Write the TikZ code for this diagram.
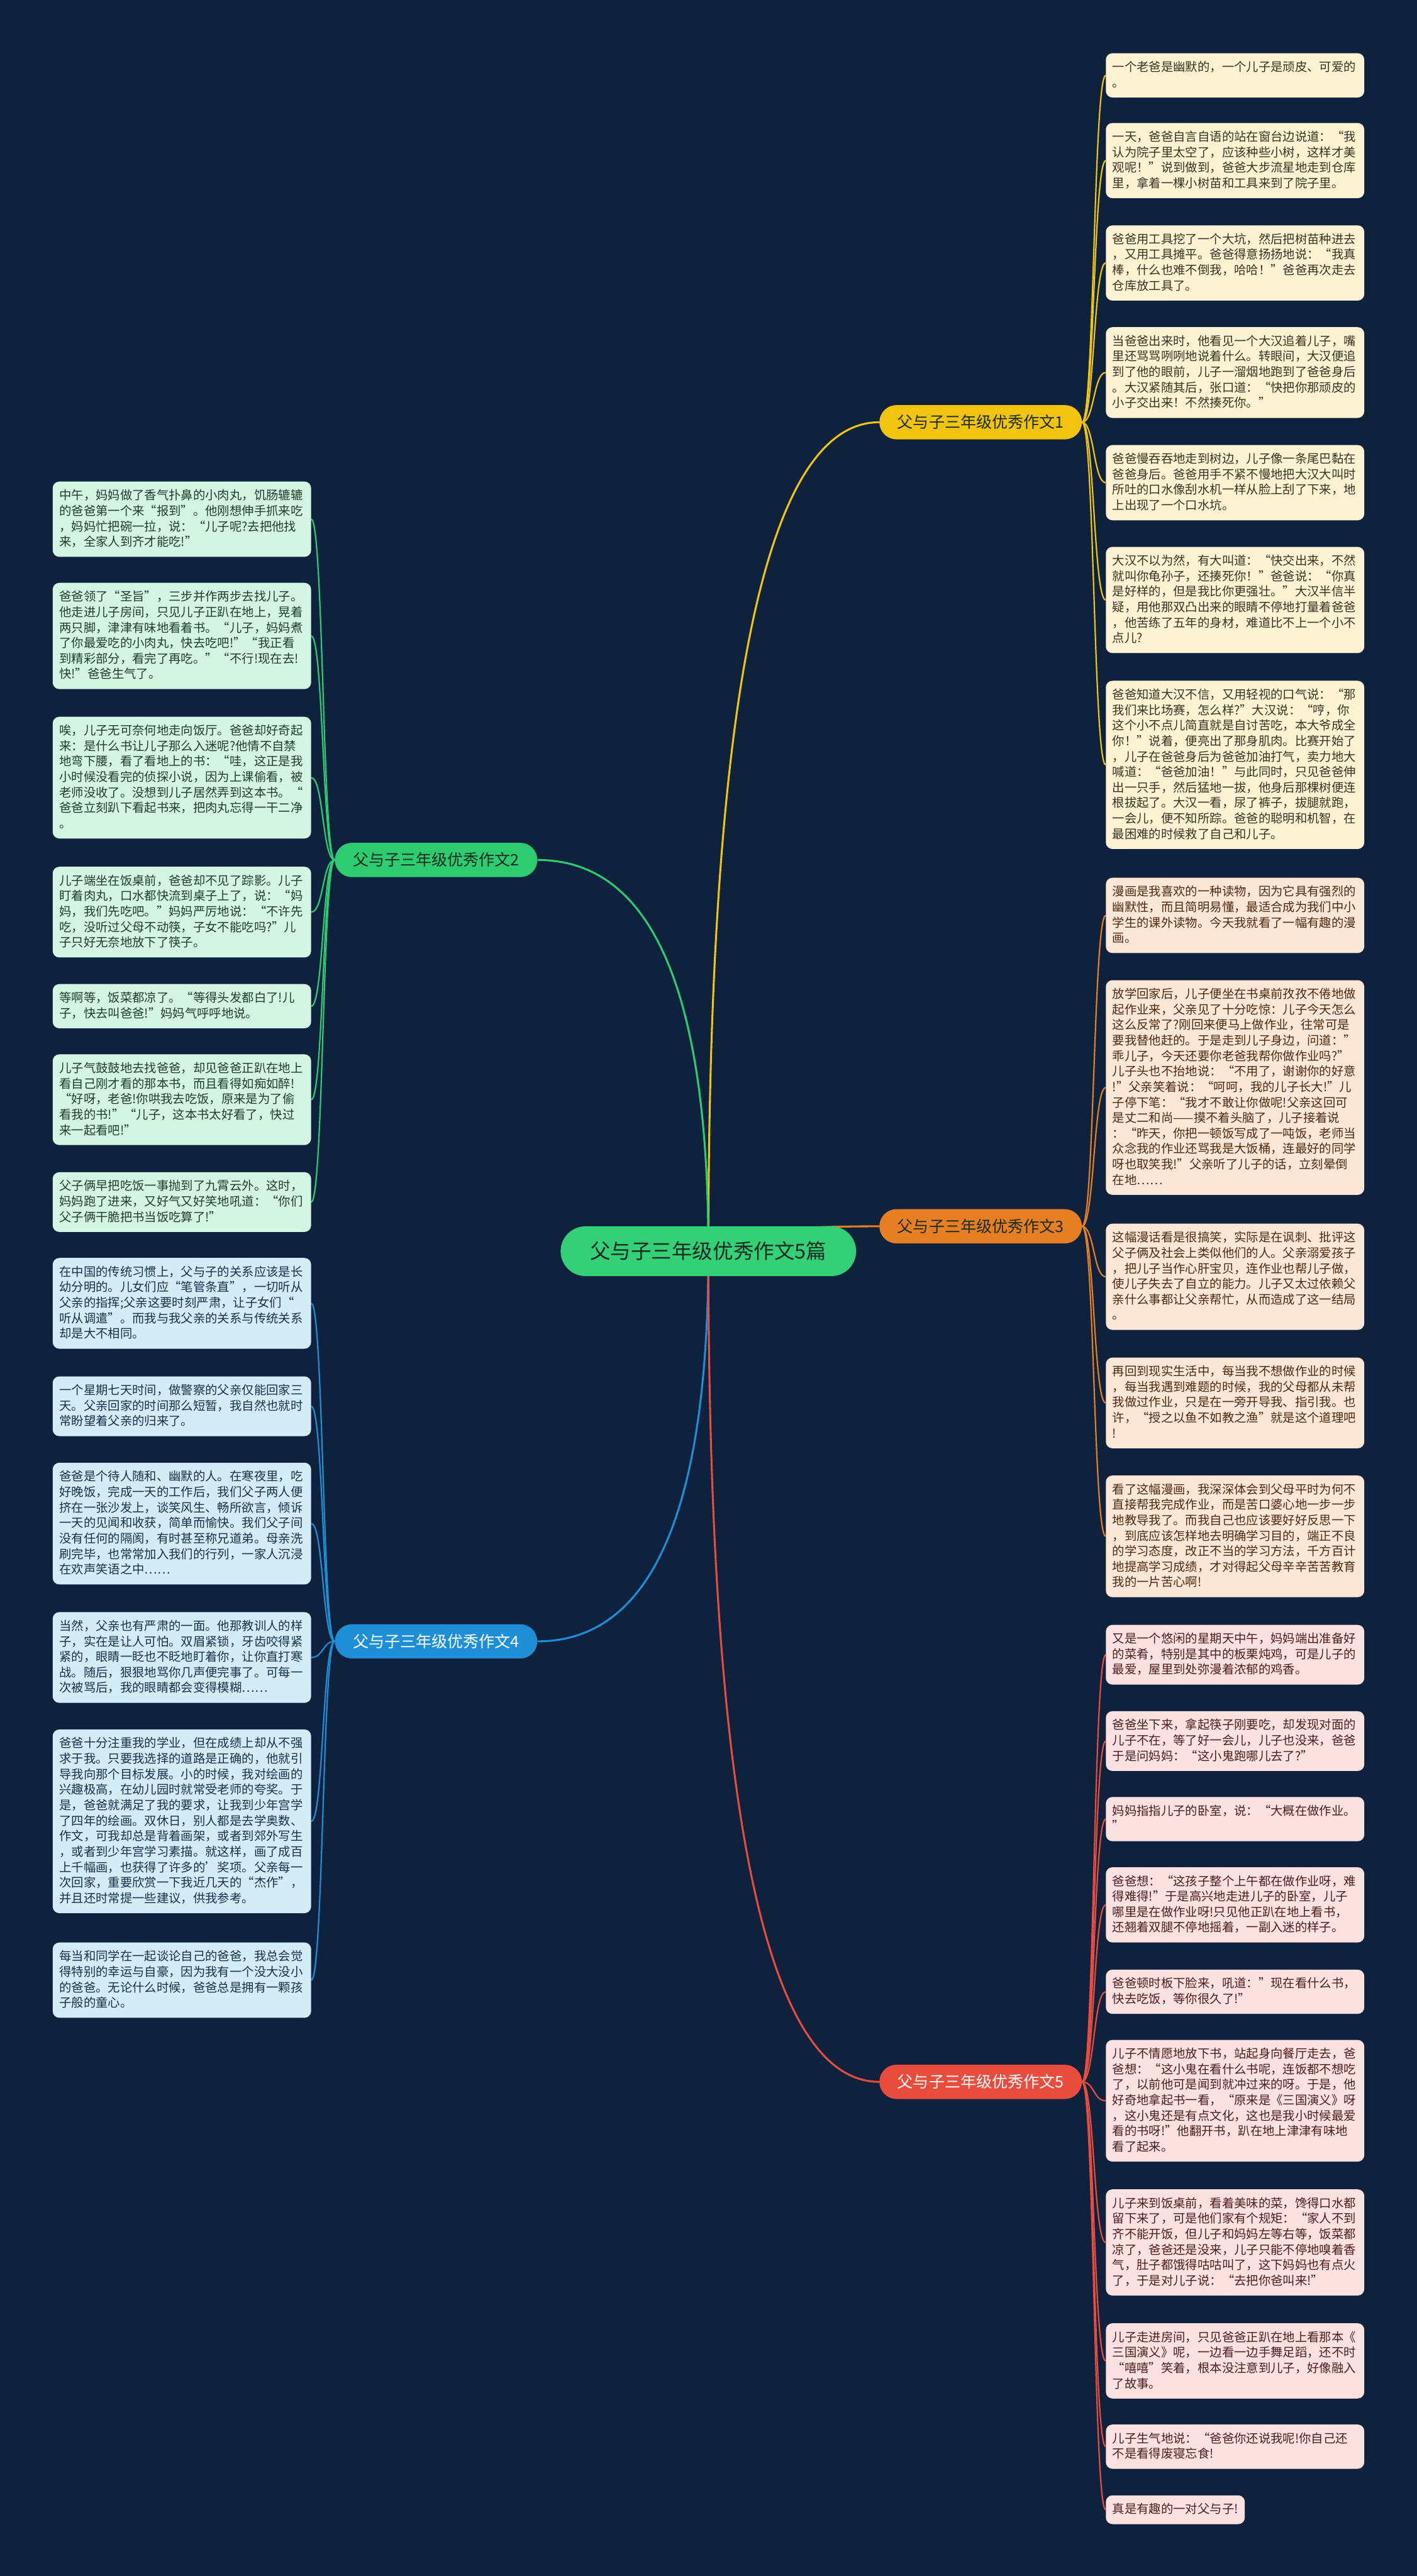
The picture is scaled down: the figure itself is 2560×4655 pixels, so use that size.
\documentclass[tikz,border=0pt]{standalone}
\usepackage{fontspec}
\setmainfont{Noto Sans CJK SC}
\usetikzlibrary{calc}
\definecolor{bg}{RGB}{14,34,62}
\definecolor{cY}{HTML}{F1C40F}
\definecolor{cG}{HTML}{2ECC71}
\definecolor{cO}{HTML}{E67E22}
\definecolor{cB}{HTML}{1E8FD6}
\definecolor{cR}{HTML}{E74C3C}
\definecolor{cC}{HTML}{33D078}
\definecolor{fY}{HTML}{FDF3D3}
\definecolor{tY}{HTML}{3A3220}
\definecolor{fO}{HTML}{FCE7D6}
\definecolor{tO}{HTML}{4A2A12}
\definecolor{fR}{HTML}{FBE1DF}
\definecolor{tR}{HTML}{4A1E1E}
\definecolor{fG}{HTML}{D5F5E3}
\definecolor{tG}{HTML}{1E3D2C}
\definecolor{fB}{HTML}{D4EBF8}
\definecolor{tB}{HTML}{173248}
\definecolor{tDark}{HTML}{1B2A1F}
\newcommand\leaffont{\fontsize{22pt}{28pt}\selectfont}
\newcommand\pillfont{\fontsize{28.5pt}{34pt}\selectfont}
\newcommand\centfont{\fontsize{37pt}{44pt}\selectfont}
\newcommand\lstr{\rule[-7pt]{0pt}{28pt}}
\pgfdeclarelayer{bgfill}
\pgfdeclarelayer{links}
\pgfsetlayers{bgfill,links,main}
\newcommand\mainlink[2]{\coordinate (mk) at (c.center|-#2);
  \draw[#1] (c.center) .. controls ($(c.center)!0.667!(mk)$) and ($(#2)!0.667!(mk)$) .. (#2);}
\newcommand\rlink[3]{\draw[#1] (#2.east) .. controls +(22,0) and +(-22,0) .. (#3.west);}
\newcommand\llink[3]{\draw[#1] (#2.west) .. controls +(-22,0) and +(22,0) .. (#3.east);}
\tikzset{
  leafbox/.style={rounded corners=12pt, anchor=north west, text width=443pt, align=left,
    inner xsep=12pt, inner ysep=12pt, font=\leaffont,
    execute at begin node=\lstr, execute at end node=\lstr},
  leafshort/.style={rounded corners=12pt, anchor=north west,
    inner xsep=12pt, inner ysep=12pt, font=\leaffont,
    execute at begin node=\lstr, execute at end node=\lstr},
  yleaf/.style={leafbox, fill=fY, text=tY},
  oleaf/.style={leafbox, fill=fO, text=tO},
  rleaf/.style={leafbox, fill=fR, text=tR},
  gleaf/.style={leafbox, fill=fG, text=tG},
  bleaf/.style={leafbox, fill=fB, text=tB},
  pill/.style={rounded corners=31pt, minimum width=366pt, minimum height=62pt, inner sep=0pt, font=\pillfont},
  centre/.style={rounded corners=45pt, minimum width=534pt, minimum height=90pt, inner sep=0pt,
    font=\centfont, fill=cC, text=tDark},
  mainline/.style={line width=3.5pt},
  leafline/.style={line width=2.5pt},
}
\begin{document}
\begin{tikzpicture}[x=1pt,y=-1pt]
\begin{pgfonlayer}{bgfill}
\fill[bg] (0,0) rectangle (2560,4655);
\end{pgfonlayer}
\useasboundingbox (0,0) rectangle (2560,4655);

% central and branches
\node[centre] (c) at (1280,2261) {父与子三年级优秀作文5篇};
\node[pill, fill=cY, text=tDark] (b1) at (1772,763) {父与子三年级优秀作文1};
\node[pill, fill=cG, text=tDark] (b2) at (788,1554) {父与子三年级优秀作文2};
\node[pill, fill=cO, text=tDark] (b3) at (1772,2216) {父与子三年级优秀作文3};
\node[pill, fill=cB, text=white] (b4) at (788,2966) {父与子三年级优秀作文4};
\node[pill, fill=cR, text=white] (b5) at (1772,3762) {父与子三年级优秀作文5};

% branch 1 leaves
\node[yleaf] (y1) at (1998,96) {一个老爸是幽默的，一个儿子是顽皮、可爱的\\。};
\node[yleaf] (y2) at (1998,222) {一天，爸爸自言自语的站在窗台边说道：“我\\认为院子里太空了，应该种些小树，这样才美\\观呢！”说到做到，爸爸大步流星地走到仓库\\里，拿着一棵小树苗和工具来到了院子里。};
\node[yleaf] (y3) at (1998,407) {爸爸用工具挖了一个大坑，然后把树苗种进去\\，又用工具摊平。爸爸得意扬扬地说：“我真\\棒，什么也难不倒我，哈哈！”爸爸再次走去\\仓库放工具了。};
\node[yleaf] (y4) at (1998,591) {当爸爸出来时，他看见一个大汉追着儿子，嘴\\里还骂骂咧咧地说着什么。转眼间，大汉便追\\到了他的眼前，儿子一溜烟地跑到了爸爸身后\\。大汉紧随其后，张口道：“快把你那顽皮的\\小子交出来！不然揍死你。”};
\node[yleaf] (y5) at (1998,804) {爸爸慢吞吞地走到树边，儿子像一条尾巴黏在\\爸爸身后。爸爸用手不紧不慢地把大汉大叫时\\所吐的口水像刮水机一样从脸上刮了下来，地\\上出现了一个口水坑。};
\node[yleaf] (y6) at (1998,988) {大汉不以为然，有大叫道：“快交出来，不然\\就叫你龟孙子，还揍死你！”爸爸说：“你真\\是好样的，但是我比你更强壮。”大汉半信半\\疑，用他那双凸出来的眼睛不停地打量着爸爸\\，他苦练了五年的身材，难道比不上一个小不\\点儿?};
\node[yleaf] (y7) at (1998,1230) {爸爸知道大汉不信，又用轻视的口气说：“那\\我们来比场赛，怎么样?”大汉说：“哼，你\\这个小不点儿简直就是自讨苦吃，本大爷成全\\你！”说着，便亮出了那身肌肉。比赛开始了\\，儿子在爸爸身后为爸爸加油打气，卖力地大\\喊道：“爸爸加油！”与此同时，只见爸爸伸\\出一只手，然后猛地一拔，他身后那棵树便连\\根拔起了。大汉一看，尿了裤子，拔腿就跑，\\一会儿，便不知所踪。爸爸的聪明和机智，在\\最困难的时候救了自己和儿子。};

% branch 3 leaves
\node[oleaf] (o1) at (1998,1586) {漫画是我喜欢的一种读物，因为它具有强烈的\\幽默性，而且简明易懂，最适合成为我们中小\\学生的课外读物。今天我就看了一幅有趣的漫\\画。};
\node[oleaf] (o2) at (1998,1771) {放学回家后，儿子便坐在书桌前孜孜不倦地做\\起作业来，父亲见了十分吃惊：儿子今天怎么\\这么反常了?刚回来便马上做作业，往常可是\\要我替他赶的。于是走到儿子身边，问道："\\乖儿子，今天还要你老爸我帮你做作业吗?”\\儿子头也不抬地说：“不用了，谢谢你的好意\\!”父亲笑着说：“呵呵，我的儿子长大!”儿\\子停下笔：“我才不敢让你做呢!父亲这回可\\是丈二和尚——摸不着头脑了，儿子接着说\\：“昨天，你把一顿饭写成了一吨饭，老师当\\众念我的作业还骂我是大饭桶，连最好的同学\\呀也取笑我!”父亲听了儿子的话，立刻晕倒\\在地……};
\node[oleaf] (o3) at (1998,2211) {这幅漫话看是很搞笑，实际是在讽刺、批评这\\父子俩及社会上类似他们的人。父亲溺爱孩子\\，把儿子当作心肝宝贝，连作业也帮儿子做，\\使儿子失去了自立的能力。儿子又太过依赖父\\亲什么事都让父亲帮忙，从而造成了这一结局\\。};
\node[oleaf] (o4) at (1998,2453) {再回到现实生活中，每当我不想做作业的时候\\，每当我遇到难题的时候，我的父母都从未帮\\我做过作业，只是在一旁开导我、指引我。也\\许，“授之以鱼不如教之渔”就是这个道理吧\\!};
\node[oleaf] (o5) at (1998,2666) {看了这幅漫画，我深深体会到父母平时为何不\\直接帮我完成作业，而是苦口婆心地一步一步\\地教导我了。而我自己也应该要好好反思一下\\，到底应该怎样地去明确学习目的，端正不良\\的学习态度，改正不当的学习方法，千方百计\\地提高学习成绩，才对得起父母辛辛苦苦教育\\我的一片苦心啊!};

% branch 5 leaves
\node[rleaf] (r1) at (1998,2936) {又是一个悠闲的星期天中午，妈妈端出准备好\\的菜肴，特别是其中的板栗炖鸡，可是儿子的\\最爱，屋里到处弥漫着浓郁的鸡香。};
\node[rleaf] (r2) at (1998,3092) {爸爸坐下来，拿起筷子刚要吃，却发现对面的\\儿子不在，等了好一会儿，儿子也没来，爸爸\\于是问妈妈：“这小鬼跑哪儿去了?”};
\node[rleaf] (r3) at (1998,3247) {妈妈指指儿子的卧室，说：“大概在做作业。\\”};
\node[rleaf] (r4) at (1998,3374) {爸爸想：“这孩子整个上午都在做作业呀，难\\得难得!”于是高兴地走进儿子的卧室，儿子\\哪里是在做作业呀!只见他正趴在地上看书，\\还翘着双腿不停地摇着，一副入迷的样子。};
\node[rleaf] (r5) at (1998,3559) {爸爸顿时板下脸来，吼道："现在看什么书，\\快去吃饭，等你很久了!”};
\node[rleaf] (r6) at (1998,3686) {儿子不情愿地放下书，站起身向餐厅走去，爸\\爸想：“这小鬼在看什么书呢，连饭都不想吃\\了，以前他可是闻到就冲过来的呀。于是，他\\好奇地拿起书一看，“原来是《三国演义》呀\\，这小鬼还是有点文化，这也是我小时候最爱\\看的书呀!”他翻开书，趴在地上津津有味地\\看了起来。};
\node[rleaf] (r7) at (1998,3956) {儿子来到饭桌前，看着美味的菜，馋得口水都\\留下来了，可是他们家有个规矩：“家人不到\\齐不能开饭，但儿子和妈妈左等右等，饭菜都\\凉了，爸爸还是没来，儿子只能不停地嗅着香\\气，肚子都饿得咕咕叫了，这下妈妈也有点火\\了，于是对儿子说：“去把你爸叫来!”};
\node[rleaf] (r8) at (1998,4198) {儿子走进房间，只见爸爸正趴在地上看那本《\\三国演义》呢，一边看一边手舞足蹈，还不时\\“嘻嘻”笑着，根本没注意到儿子，好像融入\\了故事。};
\node[rleaf] (r9) at (1998,4381) {儿子生气地说：“爸爸你还说我呢!你自己还\\不是看得废寝忘食!};
\node[leafshort, fill=fR, text=tR] (r10) at (1998,4509) {真是有趣的一对父与子!};

% branch 2 leaves
\node[gleaf] (g1) at (95,870) {中午，妈妈做了香气扑鼻的小肉丸，饥肠辘辘\\的爸爸第一个来“报到”。他刚想伸手抓来吃\\，妈妈忙把碗一拉，说：“儿子呢?去把他找\\来，全家人到齐才能吃!”};
\node[gleaf] (g2) at (95,1053) {爸爸领了“圣旨”，三步并作两步去找儿子。\\他走进儿子房间，只见儿子正趴在地上，晃着\\两只脚，津津有味地看着书。“儿子，妈妈煮\\了你最爱吃的小肉丸，快去吃吧!”“我正看\\到精彩部分，看完了再吃。”“不行!现在去!\\快!”爸爸生气了。};
\node[gleaf] (g3) at (95,1295) {唉，儿子无可奈何地走向饭厅。爸爸却好奇起\\来：是什么书让儿子那么入迷呢?他情不自禁\\地弯下腰，看了看地上的书：“哇，这正是我\\小时候没看完的侦探小说，因为上课偷看，被\\老师没收了。没想到儿子居然弄到这本书。“\\爸爸立刻趴下看起书来，把肉丸忘得一干二净\\。};
\node[gleaf] (g4) at (95,1566) {儿子端坐在饭桌前，爸爸却不见了踪影。儿子\\盯着肉丸，口水都快流到桌子上了，说：“妈\\妈，我们先吃吧。”妈妈严厉地说：“不许先\\吃，没听过父母不动筷，子女不能吃吗?”儿\\子只好无奈地放下了筷子。};
\node[gleaf] (g5) at (95,1778) {等啊等，饭菜都凉了。“等得头发都白了!儿\\子，快去叫爸爸!”妈妈气呼呼地说。};
\node[gleaf] (g6) at (95,1905) {儿子气鼓鼓地去找爸爸，却见爸爸正趴在地上\\看自己刚才看的那本书，而且看得如痴如醉!\\“好呀，老爸!你哄我去吃饭，原来是为了偷\\看我的书!”“儿子，这本书太好看了，快过\\来一起看吧!”};
\node[gleaf] (g7) at (95,2118) {父子俩早把吃饭一事抛到了九霄云外。这时，\\妈妈跑了进来，又好气又好笑地吼道：“你们\\父子俩干脆把书当饭吃算了!”};

% branch 4 leaves
\node[bleaf] (u1) at (95,2273) {在中国的传统习惯上，父与子的关系应该是长\\幼分明的。儿女们应“笔管条直”，一切听从\\父亲的指挥;父亲这要时刻严肃，让子女们“\\听从调遣”。而我与我父亲的关系与传统关系\\却是大不相同。};
\node[bleaf] (u2) at (95,2487) {一个星期七天时间，做警察的父亲仅能回家三\\天。父亲回家的时间那么短暂，我自然也就时\\常盼望着父亲的归来了。};
\node[bleaf] (u3) at (95,2643) {爸爸是个待人随和、幽默的人。在寒夜里，吃\\好晚饭，完成一天的工作后，我们父子两人便\\挤在一张沙发上，谈笑风生、畅所欲言，倾诉\\一天的见闻和收获，简单而愉快。我们父子间\\没有任何的隔阂，有时甚至称兄道弟。母亲洗\\刷完毕，也常常加入我们的行列，一家人沉浸\\在欢声笑语之中……};
\node[bleaf] (u4) at (95,2913) {当然，父亲也有严肃的一面。他那教训人的样\\子，实在是让人可怕。双眉紧锁，牙齿咬得紧\\紧的，眼睛一眨也不眨地盯着你，让你直打寒\\战。随后，狠狠地骂你几声便完事了。可每一\\次被骂后，我的眼睛都会变得模糊……};
\node[bleaf] (u5) at (95,3125) {爸爸十分注重我的学业，但在成绩上却从不强\\求于我。只要我选择的道路是正确的，他就引\\导我向那个目标发展。小的时候，我对绘画的\\兴趣极高，在幼儿园时就常受老师的夸奖。于\\是，爸爸就满足了我的要求，让我到少年宫学\\了四年的绘画。双休日，别人都是去学奥数、\\作文，可我却总是背着画架，或者到郊外写生\\，或者到少年宫学习素描。就这样，画了成百\\上千幅画，也获得了许多的'奖项。父亲每一\\次回家，重要欣赏一下我近几天的“杰作”，\\并且还时常提一些建议，供我参考。};
\node[bleaf] (u6) at (95,3510) {每当和同学在一起谈论自己的爸爸，我总会觉\\得特别的幸运与自豪，因为我有一个没大没小\\的爸爸。无论什么时候，爸爸总是拥有一颗孩\\子般的童心。};

\begin{pgfonlayer}{links}
\mainlink{mainline, cY}{b1.west}
\mainlink{mainline, cG}{b2.east}
\mainlink{mainline, cO}{b3.west}
\mainlink{mainline, cB}{b4.east}
\mainlink{mainline, cR}{b5.west}
\foreach \n in {y1,y2,y3,y4,y5,y6,y7}{\rlink{leafline, cY}{b1}{\n}}
\foreach \n in {o1,o2,o3,o4,o5}{\rlink{leafline, cO}{b3}{\n}}
\foreach \n in {r1,r2,r3,r4,r5,r6,r7,r8,r9,r10}{\rlink{leafline, cR}{b5}{\n}}
\foreach \n in {g1,g2,g3,g4,g5,g6,g7}{\llink{leafline, cG}{b2}{\n}}
\foreach \n in {u1,u2,u3,u4,u5,u6}{\llink{leafline, cB}{b4}{\n}}
\end{pgfonlayer}
\end{tikzpicture}
\end{document}
